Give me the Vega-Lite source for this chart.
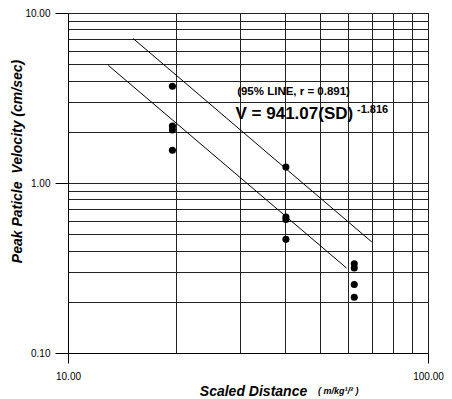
{
  "$schema": "https://vega.github.io/schema/vega-lite/v6.json",
  "width": 360,
  "height": 340,
  "autosize": {"type": "none"},
  "padding": {"left": 68, "top": 13, "right": 24, "bottom": 46},
  "background": "white",
  "config": {
    "view": {"stroke": "black", "strokeWidth": 1},
    "font": "Liberation Sans",
    "axis": {"labelFont": "Liberation Sans", "titleFont": "Liberation Sans", "labelColor": "black", "titleColor": "black", "domainColor": "black", "tickColor": "black", "labelFontSize": 10, "gridColor": "#222", "gridOpacity": 1, "gridWidth": 1}
  },
  "title": {
    "text": "( m/kg¹/² )",
    "orient": "bottom",
    "anchor": "start",
    "frame": "group",
    "dx": 250,
    "offset": -4,
    "baseline": "alphabetic",
    "font": "Liberation Sans",
    "fontSize": 9,
    "fontStyle": "italic",
    "fontWeight": "bold",
    "color": "black"
  },
  "datasets": {
    "lines": [
      {"series": "upper", "x": 15.19, "y": 7.06},
      {"series": "upper", "x": 69.8, "y": 0.45},
      {"series": "lower", "x": 12.94, "y": 4.92},
      {"series": "lower", "x": 59.4, "y": 0.316}
    ],
    "points": [
      {"x": 19.5, "y": 3.71}, {"x": 19.5, "y": 2.16}, {"x": 19.5, "y": 2.05}, {"x": 19.5, "y": 1.56},
      {"x": 40.3, "y": 1.24}, {"x": 40.3, "y": 0.63}, {"x": 40.3, "y": 0.61}, {"x": 40.3, "y": 0.466},
      {"x": 62.4, "y": 0.335}, {"x": 62.4, "y": 0.316}, {"x": 62.4, "y": 0.253}, {"x": 62.4, "y": 0.213}
    ],
    "note": [{"x": 29.5, "y": 3.44, "label": "(95% LINE, r = 0.891)"}],
    "eq": [{"x": 29.2, "y": 2.37, "label": "V = 941.07(SD)"}],
    "sup": [{"x": 63.5, "y": 2.59, "label": "-1.816"}]
  },
  "encoding": {
    "x": {
      "field": "x", "type": "quantitative",
      "scale": {"type": "log", "domain": [10, 100]},
      "axis": {
        "values": [10, 20, 30, 40, 50, 60, 70, 80, 90, 100],
        "labelExpr": "datum.value == 10 || datum.value == 100 ? format(datum.value, '.2f') : ''",
        "tickOpacity": {"condition": {"test": "datum.value == 10 || datum.value == 100", "value": 1}, "value": 0},
        "tickSize": 10, "labelPadding": 8, "grid": true, "labelFlush": false, "labelOverlap": false,
        "title": "Scaled Distance", "titleFontSize": 14, "titleFontStyle": "italic", "titleFontWeight": "bold",
        "titleX": 185, "titleY": 42, "titleBaseline": "alphabetic", "titleAlign": "center"
      }
    },
    "y": {
      "field": "y", "type": "quantitative",
      "scale": {"type": "log", "domain": [0.1, 10]},
      "axis": {
        "values": [0.1, 0.2, 0.3, 0.4, 0.5, 0.6, 0.7, 0.8, 0.9, 1, 2, 3, 4, 5, 6, 7, 8, 9, 10],
        "labelExpr": "datum.value == 0.1 || datum.value == 1 || datum.value == 10 ? format(datum.value, '.2f') : ''",
        "tickOpacity": {"condition": {"test": "datum.value == 0.1 || datum.value == 1 || datum.value == 10", "value": 1}, "value": 0},
        "tickSize": 13, "labelPadding": 5, "grid": true, "labelFlush": false, "labelOverlap": false,
        "title": "Peak Paticle \u00a0Velocity (cm/sec)", "titleFontSize": 14, "titleFontStyle": "italic", "titleFontWeight": "bold",
        "titleX": -47, "titleY": 148, "titleBaseline": "alphabetic", "titleAlign": "center", "titleAngle": 270
      }
    }
  },
  "layer": [
    {
      "data": {"name": "lines"},
      "mark": {"type": "line", "color": "black", "strokeWidth": 1},
      "encoding": {"detail": {"field": "series"}}
    },
    {
      "data": {"name": "points"},
      "mark": {"type": "circle", "color": "black", "opacity": 1, "size": 50}
    },
    {
      "data": {"name": "note"},
      "mark": {"type": "text", "align": "left", "baseline": "middle", "font": "Liberation Sans", "fontWeight": "bold", "fontSize": 11.5, "color": "black"},
      "encoding": {"text": {"field": "label"}}
    },
    {
      "data": {"name": "eq"},
      "mark": {"type": "text", "align": "left", "baseline": "alphabetic", "font": "Liberation Sans", "fontWeight": "bold", "fontSize": 17, "color": "black"},
      "encoding": {"text": {"field": "label"}}
    },
    {
      "data": {"name": "sup"},
      "mark": {"type": "text", "align": "left", "baseline": "alphabetic", "font": "Liberation Sans", "fontWeight": "bold", "fontSize": 11, "color": "black"},
      "encoding": {"text": {"field": "label"}}
    }
  ]
}
